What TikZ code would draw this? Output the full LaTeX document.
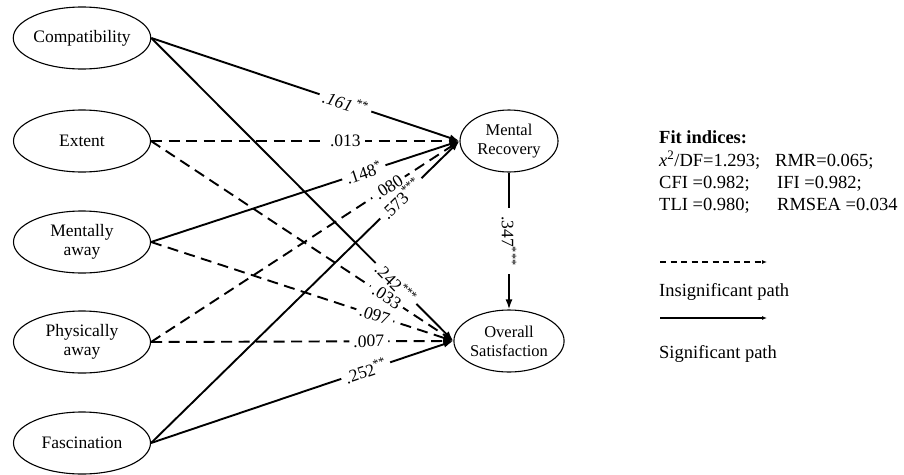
\documentclass[tikz,border=0pt]{standalone}
\usepackage{fontspec}
\setmainfont{Liberation Serif}
\usepackage{tikz}
\usetikzlibrary{arrows.meta,shapes}

\tikzset{
    factor/.style={ellipse, draw, line width=1.1pt, minimum width=137pt, minimum height=62pt,
        inner sep=0pt, align=center, font=\fontsize{17.5}{19.5}\selectfont},
    outcome/.style={factor, minimum width=98pt, font=\fontsize{16.5}{19}\selectfont},
    sig/.style={-{Latex[length=10pt,width=7pt]}, line width=1.9pt},
    insig/.style={sig, dash pattern=on 11pt off 6.5pt},
    coef/.style={fill=white, inner xsep=4pt, inner ysep=0.5pt, sloped, pos=#1, font=\fontsize{17.5}{19}\selectfont},
    vcoef/.style={fill=white, inner xsep=8pt, inner ysep=0.5pt, rotate=-90, font=\fontsize{17.5}{19}\selectfont},
    legend/.style={anchor=base west, inner sep=0pt, font=\fontsize{18.5}{22}\selectfont},
}

\begin{document}
\begin{tikzpicture}[x=1pt, y=-1pt]
        \useasboundingbox (0,0) rectangle (904,474);
        %\draw[help lines] (0,0) grid (904,474);
        \node[factor] (comp) at (82,38) {Compatibility};
        \node[factor] (ext) at (82,141) {Extent};
        \node[factor] (ment) at (82,242) {Mentally\\away};
        \node[factor] (phys) at (82,342) {Physically\\away};
        \node[factor] (fasc) at (82,443) {Fascination};
        \node[outcome] (mr) at (509,141) {Mental\\Recovery};
        \node[outcome] (os) at (509,341) {Overall\\Satisfaction};

        \draw[sig] (comp.east) -- node[coef=.63] {\textit{.161}\,\textsuperscript{**}} (mr.west);
        \draw[insig] (ext.east) -- node[coef=.63] {.013} (mr.west);
        \draw[sig] (ment.east) -- node[coef=.69] {.148\textsuperscript{*}} (mr.west);
        \draw[insig] (phys.east) -- node[coef=.77] {.080} (mr.west);
        \draw[sig] (fasc.east) -- node[coef=.81] {.573\textsuperscript{***}} (mr.west);
        \draw[sig] (comp.east) -- node[coef=.81] {.242\textsuperscript{***}} (os.west);
        \draw[insig] (ext.east) -- node[coef=.78] {.033} (os.west);
        \draw[insig] (ment.east) -- node[coef=.74] {.097} (os.west);
        \draw[insig] (phys.east) -- node[coef=.72] {.007} (os.west);
        \draw[sig] (fasc.east) -- node[coef=.71] {.252\textsuperscript{**}} (os.west);
        \draw[sig] (mr.south) -- node[vcoef] {.347\textsuperscript{***}} (os.north);

        % fit indices
        \node[legend, font=\bfseries\fontsize{18.5}{22}\selectfont] (fit) at (659,143) {Fit indices:};
        \node[legend] (chi) at (659,166) {\textit{x}\textsuperscript{2}/DF=1.293;};
        \node[legend] (rmr) at (775,166) {RMR=0.065;};
        \node[legend] (cfi) at (659,188) {CFI =0.982;};
        \node[legend] (ifi) at (777,188) {IFI =0.982;};
        \node[legend] (tli) at (659,210) {TLI =0.980;};
        \node[legend] (rmsea) at (777,210) {RMSEA =0.034};

        % legend
        \coordinate (ins1) at (660,262);
        \coordinate (ins2) at (767,262);
        \coordinate (sig1) at (660,318);
        \coordinate (sig2) at (767,318);
        \draw[-{Latex[length=5pt,width=4pt]}, line width=1.1pt, dash pattern=on 6pt off 4.5pt] (ins1) -- (ins2);
        \node[legend] (instext) at (659,296) {Insignificant path};
        \draw[-{Latex[length=5pt,width=4pt]}, line width=1.1pt] (sig1) -- (sig2);
        \node[legend] (sigtext) at (659,358) {Significant path};
    \end{tikzpicture}
\end{document}
